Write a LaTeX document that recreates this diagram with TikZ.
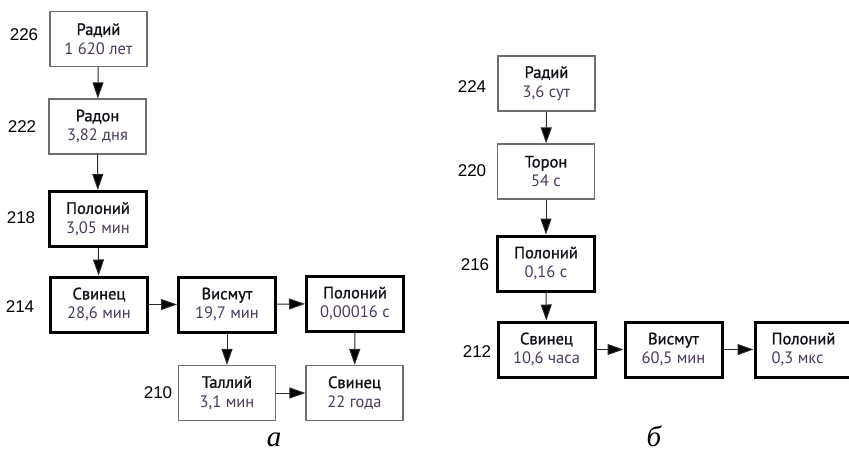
\documentclass[tikz,border=0pt]{standalone}
\usepackage{fontspec}
\usetikzlibrary{arrows.meta}
\newfontfamily\boxfont{PT Sans}
\newfontfamily\namefont[FakeBold=1.2]{PT Sans}
\newfontfamily\numfont{Liberation Sans}
\newfontfamily\capfont{Liberation Serif}
\definecolor{valcol}{HTML}{4A3B5C}
\definecolor{namecol}{HTML}{141018}
\definecolor{thincol}{HTML}{6E6E6E}
\definecolor{shaftcol}{HTML}{2A2A2A}
\newcommand{\bx}[2]{{\namefont\textcolor{namecol}{#1}}\\\textcolor{valcol}{#2}}
\tikzset{
  boxbase/.style={rectangle, minimum width=97pt, minimum height=55pt, inner sep=0pt,
    align=center, font=\boxfont\fontsize{16.5}{19.5}\selectfont},
  thinbox/.style={boxbase, draw=thincol, line width=1.2pt},
  thickbox/.style={boxbase, draw=black, line width=3pt},
  num/.style={font=\numfont\fontsize{17}{19}\selectfont, inner sep=0pt},
  panelcap/.style={font=\capfont\itshape\fontsize{29}{31}\selectfont, inner sep=0pt, anchor=base},
  arr/.style={draw=shaftcol, line width=1pt, -{Triangle[length=16pt,width=11pt,fill=black]}}
}
\begin{document}
\begin{tikzpicture}[x=1pt,y=-1pt]
\useasboundingbox (0,0) rectangle (849,451);
\clip (0,0) rectangle (849,451);
% panel a
\node[thinbox]  (ra226) at (98.5,39)  {\bx{Радий}{1 620 лет}};
\node[thinbox]  (rn222) at (97.5,126.5) {\bx{Радон}{3,82 дня}};
\node[thickbox] (po218) at (98,219)   {\bx{Полоний}{3,05 мин}};
\node[thickbox] (sv214) at (99,304.5) {\bx{Свинец}{28,6 мин}};
\node[thickbox] (bi214) at (227,304.5) {\bx{Висмут}{19,7 мин}};
\node[thickbox] (po214) at (355,303.5) {\bx{Полоний}{0,00016 с}};
\node[thinbox]  (tl210) at (227,393)  {\bx{Таллий}{3,1 мин}};
\node[thinbox]  (sv210) at (354.5,393) {\bx{Свинец}{22 года}};
\node[num] (n226) at (24,35) {226};
\node[num] (n222) at (22,127) {222};
\node[num] (n218) at (21,218) {218};
\node[num] (n214) at (20,307) {214};
\node[num] (n210) at (158,393) {210};
\draw[arr] (ra226) -- (rn222);
\draw[arr] (rn222) -- (po218);
\draw[arr] (po218) -- (sv214);
\draw[arr] (sv214) -- (bi214);
\draw[arr] (bi214) -- (po214);
\draw[arr] (bi214) -- (tl210);
\draw[arr] (po214) -- (sv210);
\draw[arr] (tl210) -- (sv210);
\node[panelcap] (capa) at (274,446) {а};
% panel b
\node[thinbox]  (ra224) at (546.5,83.5) {\bx{Радий}{3,6 сут}};
\node[thinbox]  (tn220) at (546,171.5) {\bx{Торон}{54 с}};
\node[thickbox] (po216) at (546,263.5) {\bx{Полоний}{0,16 с}};
\node[thickbox] (sv212) at (546.5,349.5) {\bx{Свинец}{10,6 часа}};
\node[thickbox] (bi212) at (673.5,349.5) {\bx{Висмут}{60,5 мин}};
\node[thickbox, align=left] (po212) at (803.5,349.5) {\bx{Полоний}{0,3 мкс}};
\node[num] (n224) at (472,87) {224};
\node[num] (n220) at (472,171) {220};
\node[num] (n216) at (475,265) {216};
\node[num] (n212) at (477,352) {212};
\draw[arr] (ra224) -- (tn220);
\draw[arr] (tn220) -- (po216);
\draw[arr] (po216) -- (sv212);
\draw[arr] (sv212) -- (bi212);
\draw[arr] (bi212) -- (po212);
\node[panelcap] (capb) at (654,446) {б};
\end{tikzpicture}
\end{document}
